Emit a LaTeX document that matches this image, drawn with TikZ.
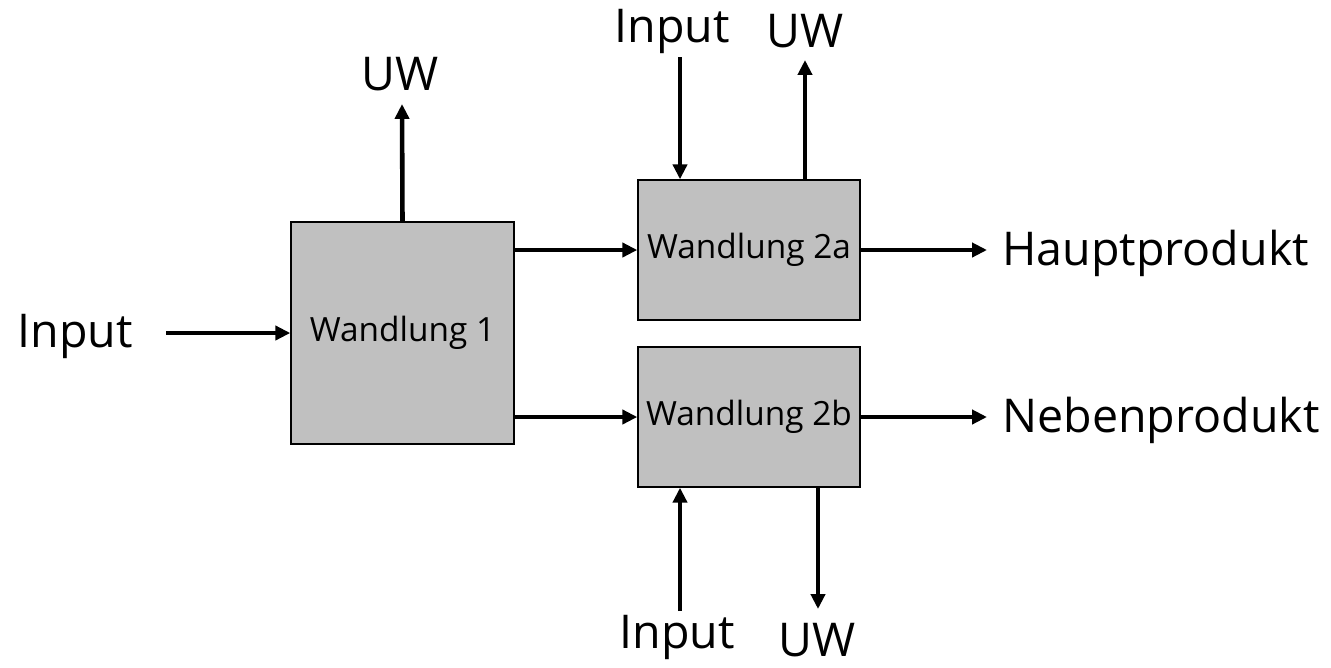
\documentclass[tikz,border=0pt]{standalone}
\usepackage{fontspec}
\setmainfont{Open Sans}
\usetikzlibrary{arrows.meta}
\definecolor{boxgray}{HTML}{C0C0C0}
\tikzset{
  proc/.style={draw=black, line width=0.8pt, fill=boxgray, inner sep=0pt, font=\fontsize{19}{22}\selectfont},
  lbl/.style={inner sep=0pt, font=\fontsize{26.5}{30}\selectfont},
  flow/.style={line width=2.6pt, -{Triangle[length=8.5pt,width=8pt]}},
}
\begin{document}
\begin{tikzpicture}[x=0.02cm,y=-0.02cm]
\useasboundingbox (0,0) rectangle (1331,667);
\node[proc, minimum width=223*0.02cm, minimum height=222*0.02cm] (w1) at (402.5,333) {Wandlung 1};
\node[proc, minimum width=222*0.02cm, minimum height=140*0.02cm] (w2a) at (749,250) {Wandlung 2a};
\node[proc, minimum width=222*0.02cm, minimum height=140*0.02cm] (w2b) at (749,417) {Wandlung 2b};

\node[lbl] (in1) at (75,336) {Input};
\node[lbl] (uw1) at (400,74) {UW};
\node[lbl] (in2) at (672,31) {Input};
\node[lbl] (uw2) at (805,31) {UW};
\node[lbl, anchor=west] (hp) at (1002,253) {Hauptprodukt};
\node[lbl, anchor=west] (np) at (1002,420) {Nebenprodukt};
\node[lbl] (in3) at (677,637) {Input};
\node[lbl] (uw3) at (817,640) {UW};

\coordinate (in1e) at (166,333);
\coordinate (uw1e) at (402,104);
\coordinate (in2e) at (680,57);
\coordinate (uw2e) at (805,60);
\coordinate (hpe) at (987,250);
\coordinate (npe) at (987,417);
\coordinate (in3e) at (680,611);
\coordinate (uw3e) at (818,609);

\draw[flow] (in1e) -- (w1.west);
\draw[flow] (w1.north) -- (uw1e);
\draw[flow] (w1.east |- w2a) -- (w2a.west);
\draw[flow] (w1.east |- w2b) -- (w2b.west);
\draw[flow] (in2e) -- (in2e |- w2a.north);
\draw[flow] (uw2e |- w2a.north) -- (uw2e);
\draw[flow] (w2a.east) -- (hpe);
\draw[flow] (w2b.east) -- (npe);
\draw[flow] (in3e) -- (in3e |- w2b.south);
\draw[flow] (uw3e |- w2b.south) -- (uw3e);
\end{tikzpicture}
\end{document}
